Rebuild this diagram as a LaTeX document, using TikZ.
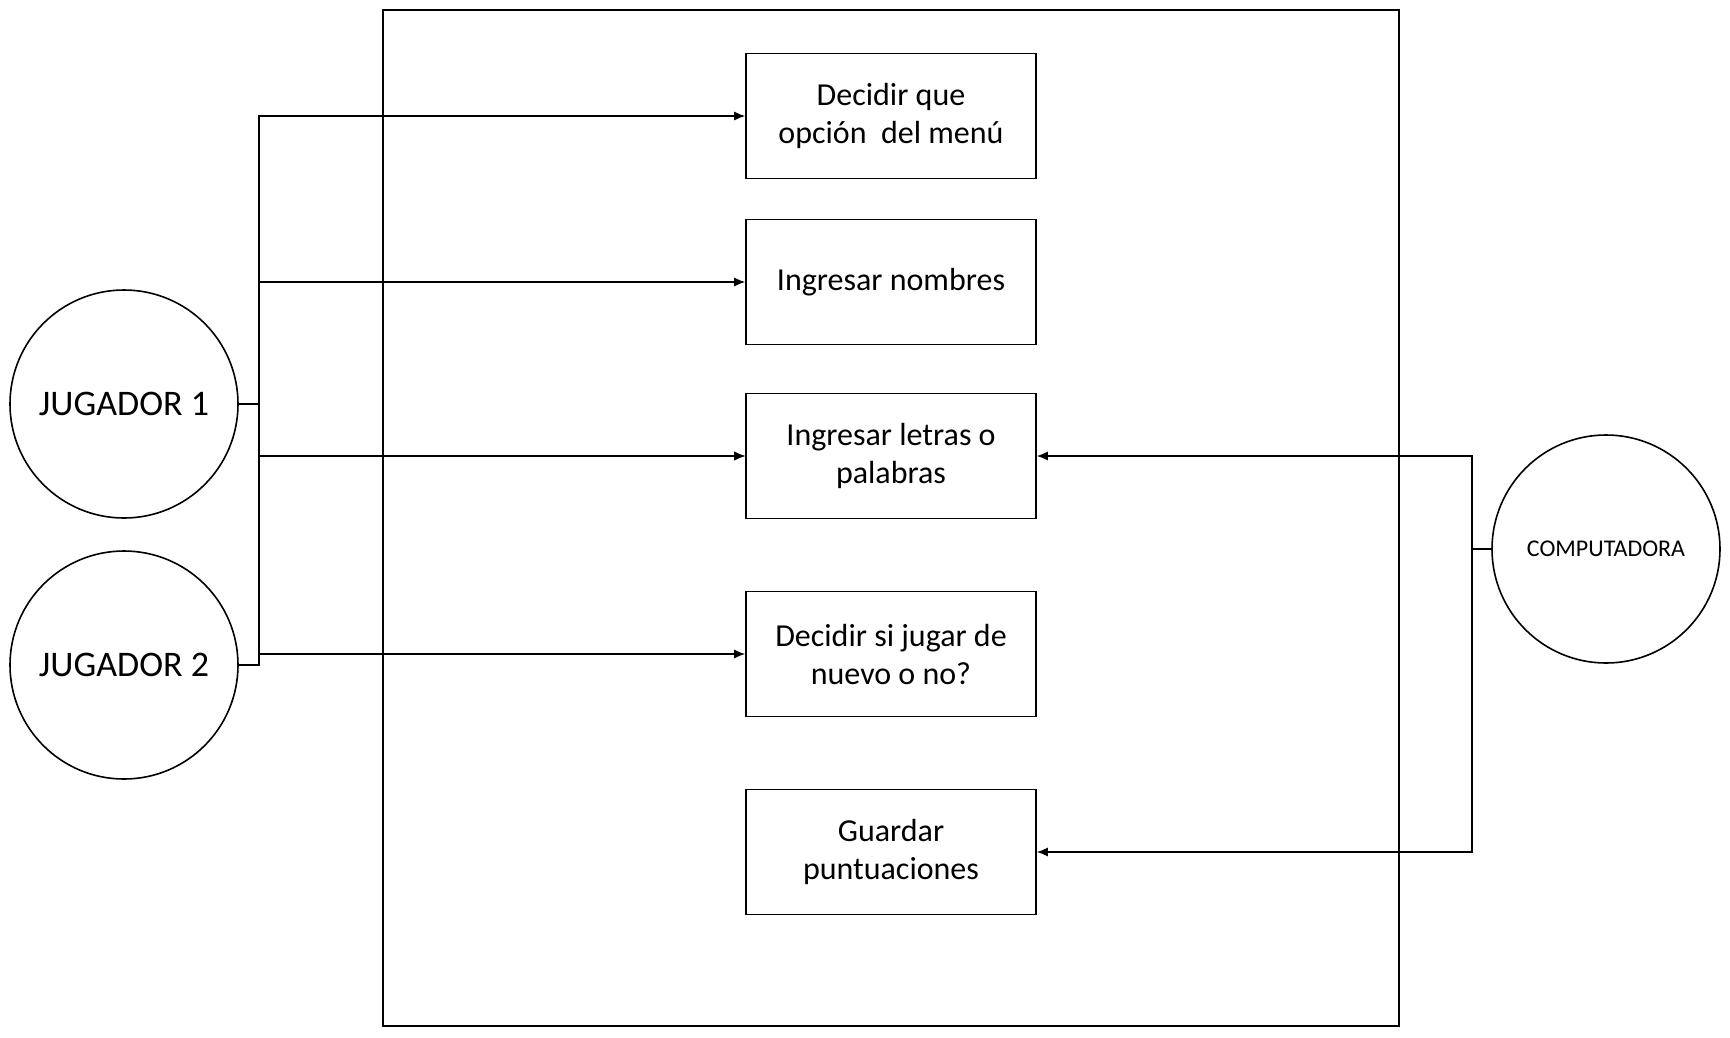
\documentclass[tikz,border=0pt]{standalone}
\usepackage{fontspec}
\setmainfont{Carlito}
\usetikzlibrary{arrows.meta}

\begin{document}
\begin{tikzpicture}[x=1pt,y=-1pt,
    every node/.style={inner sep=0pt},
    caja/.style={draw, line width=1.6pt, minimum width=290pt, minimum height=125pt,
                 align=center, font=\fontsize{32}{38}\selectfont},
    actor/.style={draw, circle, line width=1.6pt, minimum size=228pt},
    flecha/.style={-{Latex[length=11pt,width=9pt]}, line width=1.3pt}]
        \useasboundingbox (0,0) rectangle (1730,1037);

        \node[draw, line width=1.8pt, minimum width=1016pt, minimum height=1016pt] (sistema) at (891,518) {};

        \node[caja] (c1) at (891,116) {Decidir que\\opción\ \ del menú};
        \node[caja] (c2) [below of = c1,node distance=166pt] {Ingresar nombres};
        \node[caja] (c3) [below of = c2,node distance=174pt] {Ingresar letras o\\palabras};
        \node[caja] (c4) [below of = c3,node distance=198pt] {Decidir si jugar de\\nuevo o no?};
        \node[caja] (c5) [below of = c4,node distance=198pt] {Guardar\\puntuaciones};

        \node[actor, font=\fontsize{36}{42}\selectfont] (j1) at (124,404) {JUGADOR 1};
        \node[actor, font=\fontsize{36}{42}\selectfont] (j2) [below of = j1,node distance=261pt] {JUGADOR 2};
        \node[actor, font=\fontsize{24}{28}\selectfont] (comp) at (1606,549) {COMPUTADORA};

        \coordinate (troncoizq) at (259,0);
        \coordinate (troncoder) at (1472,0);

        \draw[flecha] (j1.east) -- (j1.east -| troncoizq) |- (c1.west);
        \draw[flecha] (j1.east) -- (j1.east -| troncoizq) |- (c2.west);
        \draw[flecha] (j1.east) -- (j1.east -| troncoizq) |- (c3.west);
        \draw[flecha] (j2.east) -- (j2.east -| troncoizq) |- (c3.west);
        \draw[flecha] (j2.east) -- (j2.east -| troncoizq) |- (c4.west);

        \draw[flecha] (comp.west) -- (comp.west -| troncoder) |- (c3.east);
        \draw[flecha] (comp.west) -- (comp.west -| troncoder) |- (c5.east);
\end{tikzpicture}
\end{document}
